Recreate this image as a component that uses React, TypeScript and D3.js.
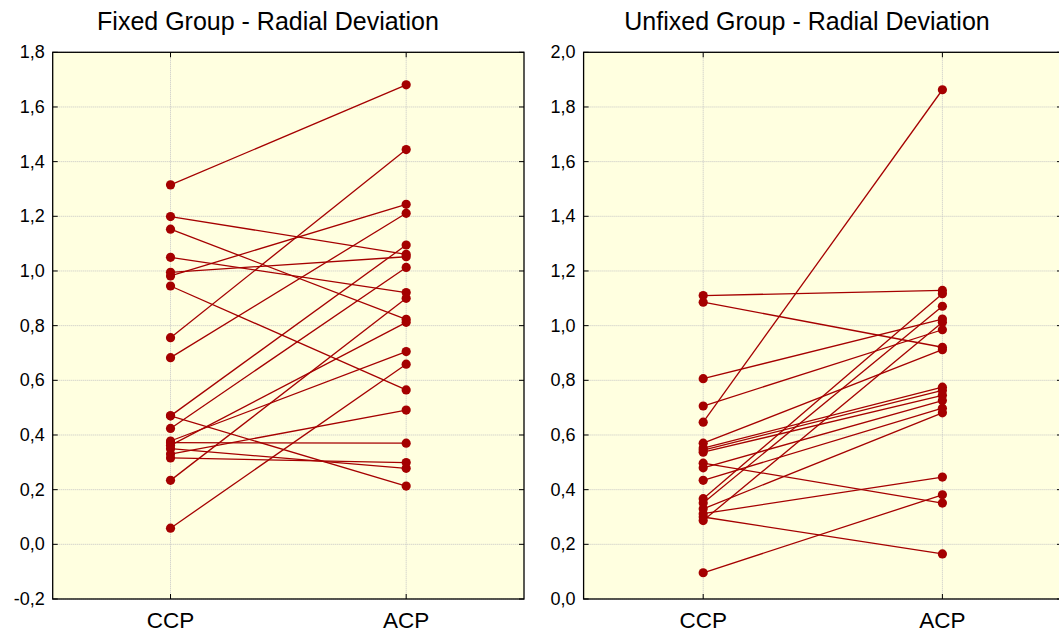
import React from "react";
import * as d3 from "d3";

const WIDTH = 1059;
const HEIGHT = 633;
const FONT = "'Liberation Sans', Arial, sans-serif";
const LINE_COLOR = "#a50000";
const PLOT_BG = "#ffffe0";

const CATEGORIES = ["CCP", "ACP"];

// Fixed group: paired values (CCP -> ACP)
const FIXED_CCP = [
  1.315, 1.199, 1.153, 1.05, 0.995, 0.982, 0.945, 0.756, 0.683, 0.47, 0.47, 0.424, 0.378, 0.372, 0.362, 0.35, 0.33,
  0.316, 0.234, 0.059,
];
const FIXED_ACP = [
  1.681, 1.061, 0.823, 0.921, 1.052, 1.244, 0.565, 1.444, 1.211, 1.095, 0.213, 1.013, 0.705, 0.37, 0.812, 0.278, 0.491,
  0.299, 0.9, 0.659,
];
const FIXED_TICKS = [-0.2, 0, 0.2, 0.4, 0.6, 0.8, 1.0, 1.2, 1.4, 1.6, 1.8];

// Unfixed group
const UNFIXED_CCP = [
  1.11, 1.086, 0.806, 0.706, 0.647, 0.57, 0.552, 0.545, 0.537, 0.497, 0.48, 0.434, 0.367, 0.351, 0.33, 0.312, 0.3,
  0.287, 0.096,
];
const UNFIXED_ACP = [
  1.129, 0.921, 1.024, 0.985, 1.863, 0.912, 0.775, 0.763, 0.745, 0.351, 0.726, 0.698, 1.117, 1.071, 0.681, 0.446, 0.165,
  1.012, 0.381,
];
const UNFIXED_TICKS = [0, 0.2, 0.4, 0.6, 0.8, 1.0, 1.2, 1.4, 1.6, 1.8, 2.0];

const fmt = (v: number) => d3.format(".1f")(v).replace(".", ",").replace("−", "-");

type PanelProps = {
  title: string;
  titleX: number;
  left: number;
  right: number;
  ccp: number[];
  acp: number[];
  ticks: number[];
};

const TOP = 52.3;
const BOTTOM = 599;

function Panel({ title, titleX, left, right, ccp, acp, ticks }: PanelProps) {
  const x = d3.scalePoint().domain(CATEGORIES).range([left, right]).padding(0.5);
  const y = d3
    .scaleLinear()
    .domain([ticks[0], ticks[ticks.length - 1]])
    .range([BOTTOM, TOP]);
  const line = d3
    .line<number>()
    .x((_, i) => x(CATEGORIES[i]) as number)
    .y((d) => y(d));

  return (
    <g>
      <text x={titleX} y={30} textAnchor="middle" style={{ fontFamily: FONT, fontSize: 25, fill: "#000" }}>
        {title}
      </text>
      <rect x={left} y={TOP} width={right - left} height={BOTTOM - TOP} fill={PLOT_BG} />
      {ticks.map((t) => (
        <line
          key={"g" + t}
          x1={left}
          x2={right}
          y1={y(t)}
          y2={y(t)}
          stroke="#c4c4c4"
          strokeWidth={1}
          strokeDasharray="1,1"
        />
      ))}
      {CATEGORIES.map((c) => (
        <line
          key={"v" + c}
          x1={x(c)}
          x2={x(c)}
          y1={TOP}
          y2={BOTTOM}
          stroke="#c4c4c4"
          strokeWidth={1}
          strokeDasharray="1,1"
        />
      ))}
      {ccp.map((v, i) => (
        <path key={"l" + i} d={line([v, acp[i]]) || ""} fill="none" stroke={LINE_COLOR} strokeWidth={1.3} />
      ))}
      {ccp.map((v, i) => (
        <g key={"p" + i}>
          <circle cx={x("CCP")} cy={y(v)} r={4.6} fill={LINE_COLOR} />
          <circle cx={x("ACP")} cy={y(acp[i])} r={4.6} fill={LINE_COLOR} />
        </g>
      ))}
      <rect x={left} y={TOP} width={right - left} height={BOTTOM - TOP} fill="none" stroke="#000" strokeWidth={1.3} />
      {ticks.map((t) => (
        <g key={"t" + t}>
          <line x1={left} x2={left + 5} y1={y(t)} y2={y(t)} stroke="#000" />
          <line x1={right - 5} x2={right} y1={y(t)} y2={y(t)} stroke="#000" />
          <text
            x={left - 8}
            y={y(t) + 6}
            textAnchor="end"
            style={{ fontFamily: FONT, fontSize: 18, fill: "#000" }}
          >
            {fmt(t)}
          </text>
        </g>
      ))}
      {CATEGORIES.map((c) => (
        <g key={"c" + c}>
          <line x1={x(c)} x2={x(c)} y1={BOTTOM} y2={BOTTOM - 5} stroke="#000" />
          <line x1={x(c)} x2={x(c)} y1={TOP} y2={TOP + 5} stroke="#000" />
          <text x={x(c)} y={628} textAnchor="middle" style={{ fontFamily: FONT, fontSize: 22.5, fill: "#000" }}>
            {c}
          </text>
        </g>
      ))}
    </g>
  );
}

export default function App() {
  return (
    <svg
      width={WIDTH}
      height={HEIGHT}
      style={{ position: "absolute", left: 0, top: 0, background: "#fff" }}
    >
      <Panel
        title="Fixed Group - Radial Deviation"
        titleX={268}
        left={52.7}
        right={524}
        ccp={FIXED_CCP}
        acp={FIXED_ACP}
        ticks={FIXED_TICKS}
      />
      <Panel
        title="Unfixed Group - Radial Deviation"
        titleX={807}
        left={583.6}
        right={1062}
        ccp={UNFIXED_CCP}
        acp={UNFIXED_ACP}
        ticks={UNFIXED_TICKS}
      />
    </svg>
  );
}
